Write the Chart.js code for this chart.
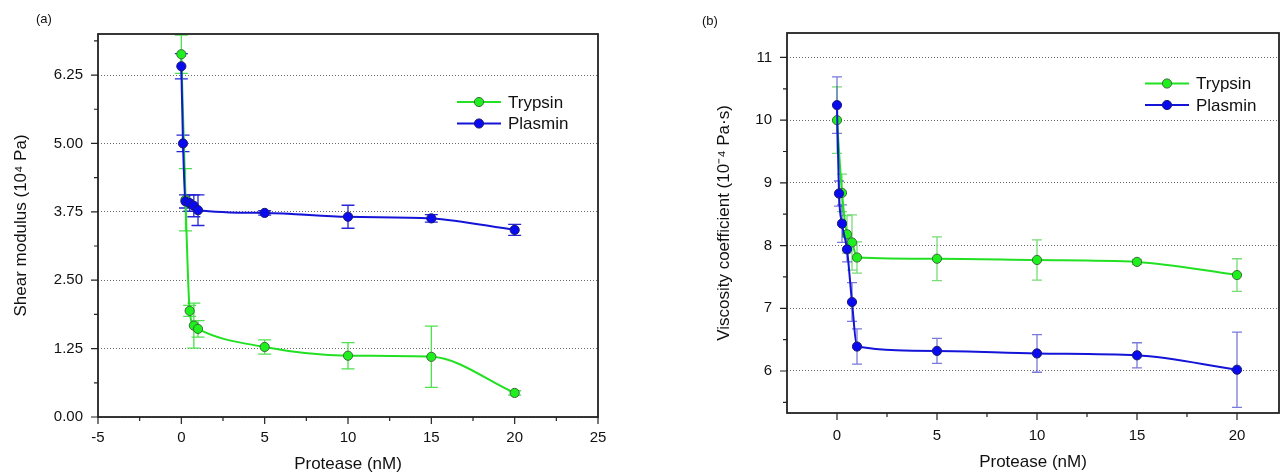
<!DOCTYPE html>
<html>
<head>
<meta charset="utf-8">
<script src="https://cdn.jsdelivr.net/npm/chart.js@4.4.1/dist/chart.umd.min.js"></script>
<style>
  body { margin: 0; background: #fff; }
  #wrap { position: relative; width: 1288px; height: 475px; }
  .panel { position: absolute; top: 0; height: 475px; }
  .tag { position: absolute; font: 13px "Liberation Sans", Arial, sans-serif; color: #111; }
</style>
</head>
<body>
<div id="wrap">
  <div class="panel" style="left:0;width:644px"><canvas id="shear"></canvas></div>
  <div class="panel" style="left:644px;width:644px"><canvas id="visc"></canvas></div>
  <div class="tag" style="left:36px;top:11px">(a)</div>
  <div class="tag" style="left:702px;top:13px">(b)</div>
</div>
<script>
// protease concentrations (nM)
const concTrypsin = [0, 0.25, 0.5, 0.75, 1, 5, 10, 15, 20];
const concPlasmin = [0, 0.1, 0.25, 0.5, 0.75, 1, 5, 10, 15, 20];

// (a) shear modulus, 10^4 Pa
const shearTrypsin    = [6.63, 3.97, 1.94, 1.67, 1.61, 1.28, 1.12, 1.10, 0.44];
const shearTrypsinErr = [0.35, 0.57, 0.10, 0.41, 0.15, 0.13, 0.24, 0.56, 0.04];
const shearPlasmin    = [6.41, 5.00, 3.94, 3.91, 3.86, 3.78, 3.73, 3.66, 3.63, 3.42];
const shearPlasminErr = [0.23, 0.15, 0.12, 0.15, 0.20, 0.28, 0.04, 0.21, 0.07, 0.10];

// (b) viscosity coefficient, 10^-4 Pa·s
const viscTrypsin    = [10.00, 8.84, 8.18, 8.05, 7.81, 7.79, 7.77, 7.74, 7.53];
const viscTrypsinErr = [0.53, 0.30, 0.30, 0.44, 0.25, 0.35, 0.32, 0.04, 0.26];
const viscPlasmin    = [10.24, 8.83, 8.35, 7.94, 7.10, 6.39, 6.32, 6.28, 6.25, 6.02];
const viscPlasminErr = [0.45, 0.20, 0.30, 0.20, 0.31, 0.28, 0.20, 0.30, 0.20, 0.60];

// tick labels
const shearTicks = [0, 1.25, 2.5, 3.75, 5, 6.25];
const viscTicks = [6, 7, 8, 9, 10, 11];
const proteaseTicksA = [-5, 0, 5, 10, 15, 20, 25];
const proteaseTicksB = [0, 5, 10, 15, 20];

const FONT = '"Liberation Sans", Arial, sans-serif';
const GREEN = '#22e022', GREEN_FILL = '#1ef01e';
const BLUE = '#1414d8', BLUE_FILL = '#0a0af0';

Chart.defaults.font.family = FONT;
Chart.defaults.color = '#111';

function pts(xs, ys) {
  return xs.map((x, i) => ({ x: x, y: ys[i] }));
}

// vertical error bars with caps, under the lines and markers
const errorBars = {
  id: 'errorBars',
  beforeDatasetsDraw(chart, args, opts) {
    const ctx = chart.ctx, xs = chart.scales.x, ys = chart.scales.y;
    chart.data.datasets.forEach(ds => {
      if (!ds.errors) return;
      ctx.save();
      ctx.strokeStyle = ds.errorColor;
      ctx.lineWidth = 1.3;
      ds.data.forEach((p, i) => {
        const px = xs.getPixelForValue(p.x);
        const top = ys.getPixelForValue(p.y + ds.errors[i]);
        const bot = ys.getPixelForValue(p.y - ds.errors[i]);
        ctx.beginPath();
        ctx.moveTo(px, top); ctx.lineTo(px, bot);
        ctx.moveTo(px - opts.cap, top); ctx.lineTo(px + opts.cap, top);
        ctx.moveTo(px - opts.cap, bot); ctx.lineTo(px + opts.cap, bot);
        ctx.stroke();
      });
      ctx.restore();
    });
  }
};

// box around the plot plus major / minor tick marks
function minorsOf(majors, lo, hi) {
  const step = majors[1] - majors[0];
  const out = [];
  [majors[0] - step].concat(majors).forEach(v => {
    const m = v + step / 2;
    if (m > lo + 1e-6 && m < hi - 1e-6) out.push(m);
  });
  return out;
}

const frame = {
  id: 'frame',
  afterDraw(chart) {
    const { ctx, chartArea: a, scales: { x, y } } = chart;
    ctx.save();
    ctx.strokeStyle = '#222';
    ctx.lineWidth = 1.2;
    const xMaj = x.ticks.map(t => t.value);
    const yMaj = y.ticks.map(t => t.value);
    ctx.beginPath();
    xMaj.forEach(v => { const p = x.getPixelForValue(v); ctx.moveTo(p, a.bottom); ctx.lineTo(p, a.bottom + 7); });
    minorsOf(xMaj, x.min, x.max).forEach(v => { const p = x.getPixelForValue(v); ctx.moveTo(p, a.bottom); ctx.lineTo(p, a.bottom + 4); });
    yMaj.forEach(v => { const p = y.getPixelForValue(v); ctx.moveTo(a.left, p); ctx.lineTo(a.left - 7, p); });
    minorsOf(yMaj, y.min, y.max).forEach(v => { const p = y.getPixelForValue(v); ctx.moveTo(a.left, p); ctx.lineTo(a.left - 4, p); });
    ctx.stroke();
    ctx.lineWidth = 1.8;
    ctx.strokeRect(a.left, a.top, a.right - a.left, a.bottom - a.top);
    ctx.restore();
  }
};

// legend: short line with a marker in the middle, then the label
const lineLegend = {
  id: 'lineLegend',
  afterDraw(chart, args, opts) {
    const ctx = chart.ctx;
    ctx.save();
    ctx.font = '17px ' + FONT;
    ctx.textBaseline = 'middle';
    chart.data.datasets.forEach((ds, i) => {
      const yy = opts.y + i * opts.gap;
      ctx.strokeStyle = ds.borderColor;
      ctx.lineWidth = 2;
      ctx.beginPath();
      ctx.moveTo(opts.x, yy); ctx.lineTo(opts.x + 44, yy);
      ctx.stroke();
      ctx.beginPath();
      ctx.arc(opts.x + 22, yy, 4.6, 0, Math.PI * 2);
      ctx.fillStyle = ds.backgroundColor;
      ctx.fill();
      ctx.lineWidth = 1;
      ctx.strokeStyle = ds.pointBorderColor;
      ctx.stroke();
      ctx.fillStyle = '#111';
      ctx.fillText(ds.label, opts.x + 51, yy + 1);
    });
    ctx.restore();
  }
};

function makePanel(id, p) {
  return new Chart(document.getElementById(id), {
    type: 'line',
    data: {
      datasets: [
        {
          label: 'Trypsin', data: pts(concTrypsin, p.tryp), errors: p.trypErr, errorColor: p.trypErrColor,
          borderColor: GREEN, backgroundColor: GREEN_FILL, pointBorderColor: '#3d6a3d',
          borderWidth: 2, pointRadius: 4.6, pointBorderWidth: 1,
          cubicInterpolationMode: 'monotone', order: 1
        },
        {
          label: 'Plasmin', data: pts(concPlasmin, p.plas), errors: p.plasErr, errorColor: p.plasErrColor,
          borderColor: BLUE, backgroundColor: BLUE_FILL, pointBorderColor: '#1a1a70',
          borderWidth: 2, pointRadius: 4.6, pointBorderWidth: 1,
          cubicInterpolationMode: 'monotone', order: 0
        }
      ]
    },
    options: {
      responsive: true,
      maintainAspectRatio: false,
      animation: false,
      layout: { padding: p.padding },
      scales: {
        x: {
          type: 'linear', min: p.xMin, max: p.xMax,
          afterBuildTicks: s => { s.ticks = p.xTicks.map(v => ({ value: v })); },
          afterFit: s => { s.height = p.xAxisHeight; },
          grid: { display: false, drawTicks: false },
          border: { display: false },
          ticks: { padding: p.xPad, font: { size: 15 }, maxRotation: 0, callback: v => String(v) },
          title: { display: true, text: 'Protease (nM)', font: { size: 17 }, padding: { top: 0, bottom: p.xTitlePad } }
        },
        y: {
          min: p.yMin, max: p.yMax,
          afterBuildTicks: s => { s.ticks = p.yTicks.map(v => ({ value: v })); },
          afterFit: s => { s.width = p.yAxisWidth; },
          grid: { color: '#6a6a6a', lineWidth: 1, drawTicks: false },
          border: { display: false, dash: [1, 2] },
          ticks: { padding: 15, font: { size: 15 }, callback: p.yFormat },
          title: { display: true, text: p.yTitle, font: { size: 17 }, padding: { top: p.yTitlePad, bottom: 0 } }
        }
      },
      plugins: {
        legend: { display: false },
        tooltip: { enabled: false },
        errorBars: { cap: p.cap },
        lineLegend: p.legend
      }
    },
    plugins: [errorBars, frame, lineLegend]
  });
}

makePanel('shear', {
  tryp: shearTrypsin, trypErr: shearTrypsinErr, trypErrColor: '#4ee04e',
  plas: shearPlasmin, plasErr: shearPlasminErr, plasErrColor: '#2626d6',
  xMin: -5, xMax: 25, xTicks: proteaseTicksA,
  yMin: 0, yMax: 7.0, yTicks: shearTicks, yFormat: v => v.toFixed(2),
  yTitle: 'Shear modulus (10\u2074 Pa)',
  padding: { left: 0, right: 46, top: 34, bottom: 0 },
  yAxisWidth: 98, xAxisHeight: 58, xPad: 12, xTitlePad: 0, yTitlePad: 11,
  cap: 6.5,
  legend: { x: 457, y: 102, gap: 21.5 }
});

makePanel('visc', {
  tryp: viscTrypsin, trypErr: viscTrypsinErr, trypErrColor: '#78dc78',
  plas: viscPlasmin, plasErr: viscPlasminErr, plasErrColor: 'rgba(50,50,200,0.65)',
  xMin: -2.5, xMax: 22.1, xTicks: proteaseTicksB,
  yMin: 5.33, yMax: 11.39, yTicks: viscTicks, yFormat: v => String(v),
  yTitle: 'Viscosity coefficient (10\u207B\u2074 Pa\u00B7s)',
  padding: { left: 0, right: 9, top: 33, bottom: 0 },
  yAxisWidth: 143, xAxisHeight: 62, xPad: 14, xTitlePad: 2, yTitlePad: 70,
  cap: 5,
  legend: { x: 501, y: 83.5, gap: 21.5 }
});
</script>
</body>
</html>
